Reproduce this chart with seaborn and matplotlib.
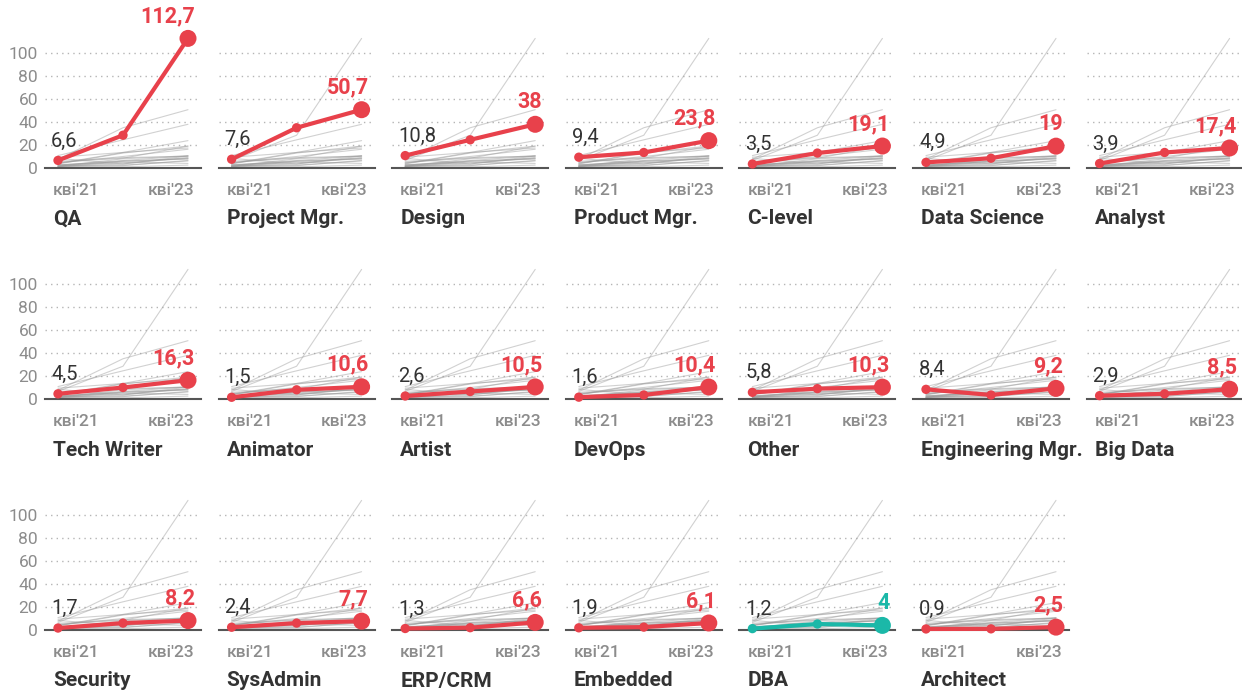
import matplotlib
matplotlib.use("Agg")
import matplotlib.pyplot as plt
import matplotlib.transforms as mtransforms
import seaborn as sns
import pandas as pd

# values per role: Apr 2021, Apr 2022, Apr 2023
roles = ["QA", "Project Mgr.", "Design", "Product Mgr.", "C-level", "Data Science", "Analyst",
         "Tech Writer", "Animator", "Artist", "DevOps", "Other", "Engineering Mgr.", "Big Data",
         "Security", "SysAdmin", "ERP/CRM", "Embedded", "DBA", "Architect"]
apr21 = [6.6, 7.6, 10.8, 9.4, 3.5, 4.9, 3.9, 4.5, 1.5, 2.6, 1.6, 5.8, 8.4, 2.9,
         1.7, 2.4, 1.3, 1.9, 1.2, 0.9]
apr22 = [28.5, 35.0, 24.5, 13.5, 13.0, 8.5, 13.5, 10.0, 8.0, 6.5, 3.5, 9.0, 3.5, 4.5,
         6.0, 6.0, 2.0, 2.5, 5.2, 1.0]
apr23 = [112.7, 50.7, 38.0, 23.8, 19.1, 19.0, 17.4, 16.3, 10.6, 10.5, 10.4, 10.3, 9.2, 8.5,
         8.2, 7.7, 6.6, 6.1, 4.0, 2.5]
periods = [0, 1, 2]
period_labels = ["кві'21", "кві'23"]
y_ticks = [0, 20, 40, 60, 80, 100]
alt_roles = ["DBA"]

RED = "#e8414b"
TEAL = "#1bb8a8"
DARK = "#333333"
GREY = "#8c8c8c"

rows = []
for name, a, b, c in zip(roles, apr21, apr22, apr23):
    for p, v in zip(periods, [a, b, c]):
        rows.append({"role": name, "period": p, "value": v})
df = pd.DataFrame(rows)


def fmt(v):
    if float(v).is_integer():
        return str(int(v))
    return f"{v:.1f}".replace(".", ",")


sns.set_theme(style="white")
plt.rcParams["font.family"] = ["Roboto", "DejaVu Sans"]

W, H = 1242, 694
fig = plt.figure(figsize=(W / 100, H / 100), dpi=100)

ncols = 7
ymax = 125
px_per_unit = 1.15
for i, role in enumerate(roles):
    r, c = divmod(i, ncols)
    left = 45 + c * 173.6
    base = 168 + r * 231
    height = ymax * px_per_unit
    ax = fig.add_axes([left / W, 1 - base / H, 156 / W, height / H])

    sns.lineplot(data=df, x="period", y="value", units="role", estimator=None,
                 color="#999999", lw=0.8, alpha=0.45, ax=ax, legend=False, clip_on=False)

    col = TEAL if role in alt_roles else RED
    sub = df[df["role"] == role]
    sns.lineplot(data=sub, x="period", y="value", color=col, lw=3, ax=ax,
                 legend=False, clip_on=False, zorder=5)
    sns.scatterplot(data=sub.iloc[:2], x="period", y="value", color=col, s=45,
                    edgecolor="none", ax=ax, legend=False, clip_on=False, zorder=6)
    sns.scatterplot(data=sub.iloc[2:], x="period", y="value", color=col, s=150,
                    edgecolor="none", ax=ax, legend=False, clip_on=False, zorder=6)

    v0, v2 = sub["value"].iloc[0], sub["value"].iloc[2]
    ax.annotate(fmt(v0), xy=(0, v0), xytext=(-7, 10), textcoords="offset pixels",
                ha="left", va="bottom", fontsize=14.5, color=DARK)
    ax.annotate(fmt(v2), xy=(2, v2), xytext=(7, 11), textcoords="offset pixels",
                ha="right", va="bottom", fontsize=15.5, fontweight="bold", color=col)
    ax.annotate(role, xy=(0, 0), xytext=(-5, -51), textcoords="offset pixels",
                ha="left", va="center", fontsize=15, fontweight="bold", color=DARK)

    ax.set_xlim(-0.2, 2.2)
    ax.set_ylim(0, ymax)
    ax.set_yticks(y_ticks)
    ax.set_xticks([0, 2])
    ax.set_xticklabels(period_labels)
    ax.set_xlabel("")
    ax.set_ylabel("")
    ax.tick_params(axis="both", length=0, labelsize=12.5, labelcolor=GREY)
    ax.tick_params(axis="x", pad=11)
    ax.tick_params(axis="y", pad=5)
    if c != 0:
        ax.tick_params(axis="y", labelleft=False)
    labs = ax.get_xticklabels()
    labs[0].set_ha("left")
    labs[0].set_transform(labs[0].get_transform() +
                          mtransforms.ScaledTranslation(-0.05, 0, fig.dpi_scale_trans))
    labs[1].set_ha("right")
    labs[1].set_transform(labs[1].get_transform() +
                          mtransforms.ScaledTranslation(0.06, 0, fig.dpi_scale_trans))
    for lab in labs:
        lab.set_fontweight("medium")

    ax.yaxis.grid(True, linestyle=(0, (1, 3)), color="#b5b5b5", lw=1)
    ax.xaxis.grid(False)
    for s in ["top", "right", "left"]:
        ax.spines[s].set_visible(False)
    ax.spines["bottom"].set_color("#555555")
    ax.spines["bottom"].set_linewidth(1.5)
    ax.patch.set_alpha(0)

fig.savefig("out.png", dpi=100)
